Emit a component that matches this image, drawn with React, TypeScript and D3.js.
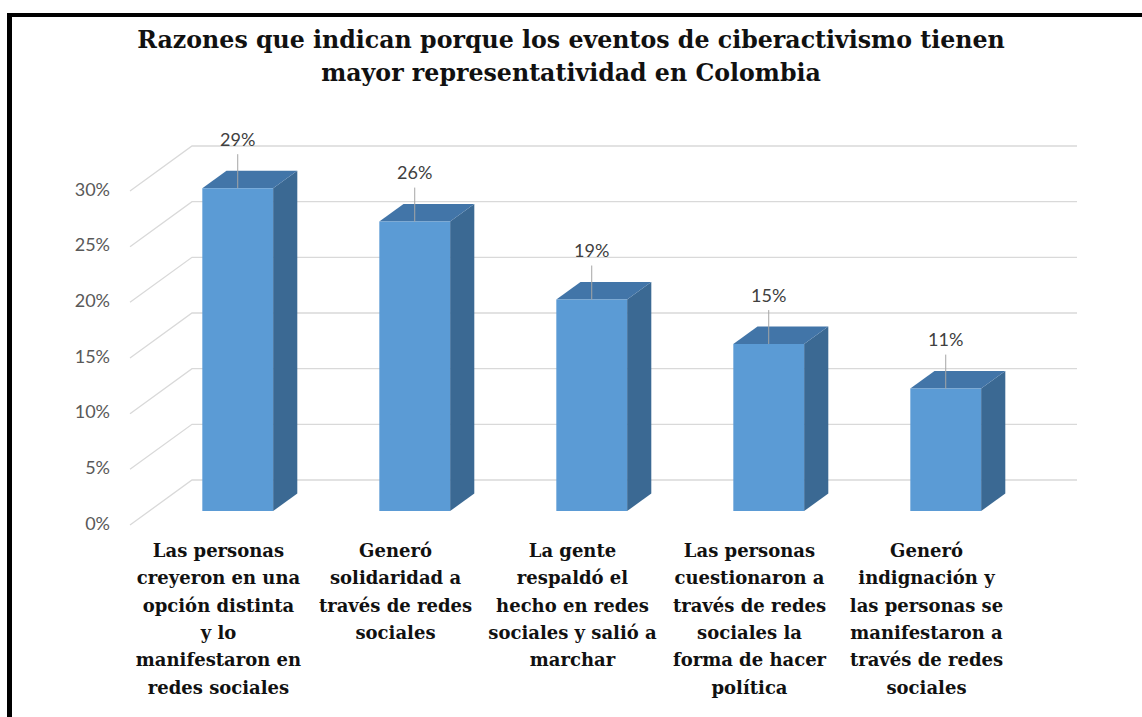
import * as d3 from 'd3'

// chart data
const titleLines = [
  'Razones que indican porque los eventos de ciberactivismo tienen',
  'mayor representatividad en Colombia',
]

const categories = ['c1', 'c2', 'c3', 'c4', 'c5']

const categoryLabels = [
  ['Las personas', 'creyeron en una', 'opción distinta', 'y lo', 'manifestaron en', 'redes sociales'],
  ['Generó', 'solidaridad a', 'través de redes', 'sociales'],
  ['La gente', 'respaldó el', 'hecho en redes', 'sociales y salió a', 'marchar'],
  ['Las personas', 'cuestionaron a', 'través de redes', 'sociales la', 'forma de hacer', 'política'],
  ['Generó', 'indignación y', 'las personas se', 'manifestaron a', 'través de redes', 'sociales'],
]

const values = [0.29, 0.26, 0.19, 0.15, 0.11]

const yTicks = [0, 0.05, 0.1, 0.15, 0.2, 0.25, 0.3]

const W = 1142
const H = 717

// oblique 3D projection: depth 0 = front plane, 1 = back wall
const DEPTH_X = 62
const DEPTH_Y = -45
const BAR_Z0 = 0.31
const BAR_Z1 = 0.7

const serif = "'DejaVu Serif', 'Liberation Serif', serif"
const sans = "Lato, 'Open Sans', sans-serif"

export default function App() {
  const x = d3.scaleBand<string>()
    .domain(categories)
    .range([130, 1015])
    .paddingInner(0.6)
    .paddingOuter(0.3)

  const y = d3.scaleLinear().domain([0, 0.3]).range([525, 191])

  const proj = (px: number, v: number, z: number): [number, number] => [
    px + z * DEPTH_X,
    y(v) + z * DEPTH_Y,
  ]

  const pct = d3.format('.0%')

  const pts = (arr: [number, number][]) => arr.map(p => p.join(',')).join(' ')

  return (
    <svg
      width={W}
      height={H}
      style={{ position: 'absolute', left: 0, top: 0, background: '#fff' }}
    >
      <rect x={0} y={0} width={W} height={H} fill="#fff" />

      {/* frame, only top and left edges are visible */}
      <rect x={7} y={13} width={W - 7} height={4} fill="#000" />
      <rect x={7} y={13} width={5} height={H - 13} fill="#000" />

      {/* title */}
      <g fontFamily={serif} fontWeight="bold" fontSize={23.7} fill="#111" textAnchor="middle">
        {titleLines.map((t, i) => (
          <text key={i} x={571} y={41 + i * 33} dominantBaseline="middle">{t}</text>
        ))}
      </g>

      {/* gridlines: side wall and back wall */}
      <g stroke="#d9d9d9" strokeWidth={1.3} fill="none">
        {yTicks.map(t => {
          const a = proj(130, t, 0)
          const b = proj(130, t, 1)
          const c = proj(1015, t, 1)
          return <polyline key={t} points={pts([a, b, c])} />
        })}
      </g>

      {/* y axis labels */}
      <g fontFamily={sans} fontSize={18} fill="#595959" textAnchor="end">
        {yTicks.map(t => (
          <text key={t} x={110} y={y(t)} dominantBaseline="middle">{pct(t)}</text>
        ))}
      </g>

      {/* 3D bars */}
      {categories.map((c, i) => {
        const x0 = x(c)!
        const x1 = x0 + x.bandwidth()
        const v = values[i]
        const fbl = proj(x0, 0, BAR_Z0)
        const fbr = proj(x1, 0, BAR_Z0)
        const ftl = proj(x0, v, BAR_Z0)
        const ftr = proj(x1, v, BAR_Z0)
        const bbr = proj(x1, 0, BAR_Z1)
        const btl = proj(x0, v, BAR_Z1)
        const btr = proj(x1, v, BAR_Z1)
        const cx = (ftl[0] + ftr[0]) / 2
        const labelY = ftl[1] - 47
        return (
          <g key={c}>
            <polygon points={pts([fbr, ftr, btr, bbr])} fill="#3b6993" />
            <polygon points={pts([ftl, ftr, btr, btl])} fill="#4275a8" />
            <polygon points={pts([fbl, fbr, ftr, ftl])} fill="#5b9bd5" />
            <line x1={cx} x2={cx} y1={labelY + 13} y2={ftl[1]} stroke="#a6a6a6" strokeWidth={1} />
            <text
              x={cx}
              y={labelY}
              textAnchor="middle"
              dominantBaseline="middle"
              fontFamily={sans}
              fontSize={18}
              fill="#404040"
            >
              {pct(v)}
            </text>
          </g>
        )
      })}

      {/* category labels */}
      <g fontFamily={serif} fontWeight="bold" fontSize={18} fill="#111" textAnchor="middle">
        {categories.map((c, i) => (
          <text key={c}>
            {categoryLabels[i].map((line, j) => (
              <tspan key={j} x={x(c)! + x.bandwidth() / 2} y={552 + j * 27.3} dominantBaseline="middle">
                {line}
              </tspan>
            ))}
          </text>
        ))}
      </g>
    </svg>
  )
}
